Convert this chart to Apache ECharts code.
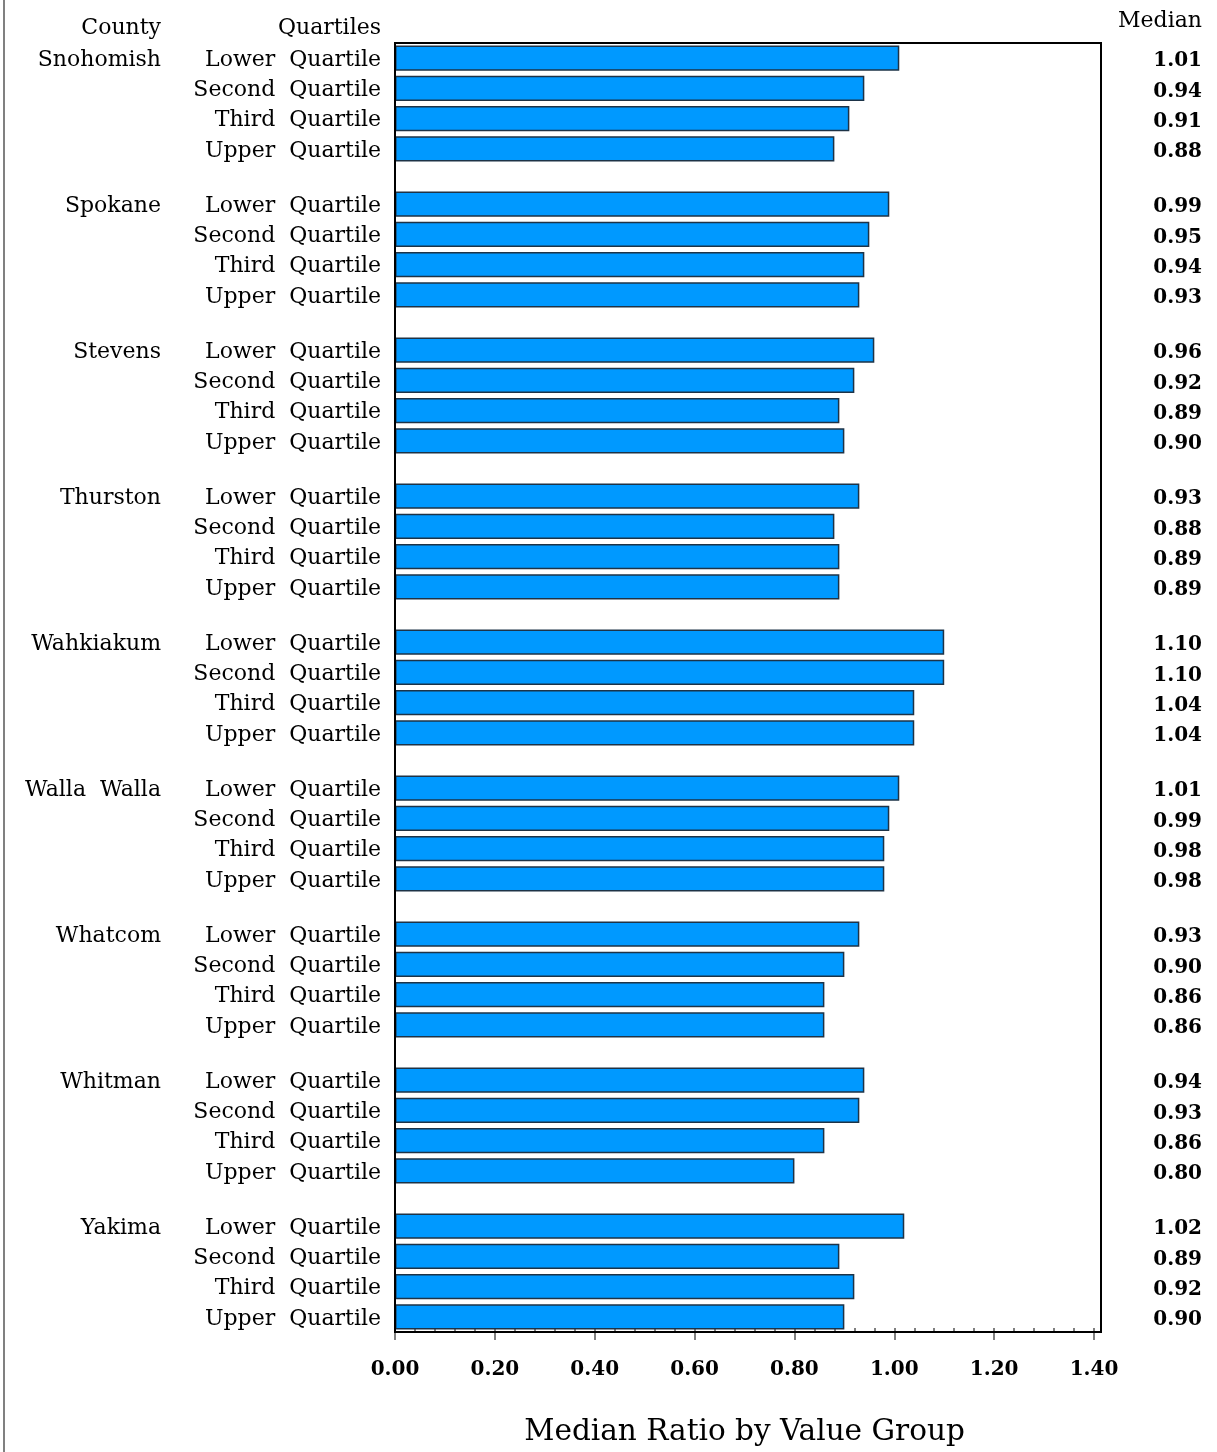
<!DOCTYPE html>
<html>
<head>
<meta charset="utf-8">
<script src="https://cdn.jsdelivr.net/npm/echarts@6/dist/echarts.min.js"></script>
<style>
html,body{margin:0;padding:0;background:#fff;}
#chart{width:1217px;height:1452px;}
</style>
</head>
<body>
<div id="chart"></div>
<script>
const counties = ['Snohomish','Spokane','Stevens','Thurston','Wahkiakum','Walla  Walla','Whatcom','Whitman','Yakima'];
const quartiles = ['Lower  Quartile','Second  Quartile','Third  Quartile','Upper  Quartile'];
const snohomish = [1.01, 0.94, 0.91, 0.88];
const spokane   = [0.99, 0.95, 0.94, 0.93];
const stevens   = [0.96, 0.92, 0.89, 0.90];
const thurston  = [0.93, 0.88, 0.89, 0.89];
const wahkiakum = [1.10, 1.10, 1.04, 1.04];
const wallaWalla= [1.01, 0.99, 0.98, 0.98];
const whatcom   = [0.93, 0.90, 0.86, 0.86];
const whitman   = [0.94, 0.93, 0.86, 0.80];
const yakima    = [1.02, 0.89, 0.92, 0.90];
const xTicks = [0, 0.2, 0.4, 0.6, 0.8, 1.0, 1.2, 1.4];
const axisTitle = 'Median Ratio by Value Group';

const medians = [snohomish, spokane, stevens, thurston, wahkiakum, wallaWalla, whatcom, whitman, yakima];

const FONT = '"DejaVu Serif", serif';
const chart = echarts.init(document.getElementById('chart'), null, {renderer:'canvas'});

const TOP = 43, PITCH = 146, GH = 121, LEFT = 395, RIGHT = 1217 - 1094;
const grids = [], xAxes = [], yAxes = [], series = [];

const richLabel = (size, weight, pad) => ({
  formatter: v => v ? '{a|' + v + '}' : '',
  rich: {a: {fontFamily: FONT, fontSize: size, fontWeight: weight, color: '#000', padding: [pad, 0, 0, 0]}}
});

counties.forEach((c, g) => {
  grids.push({left: LEFT, right: RIGHT, top: TOP + g * PITCH, height: GH, show: false});
  xAxes.push({gridIndex: g, type: 'value', min: 0, max: xTicks[xTicks.length-1], show: false});
  const base = yAxes.length;
  yAxes.push({
    gridIndex: g, type: 'category', inverse: true, position: 'left', data: quartiles,
    axisLine: {show: false}, axisTick: {show: false},
    axisLabel: Object.assign({interval: 0, margin: 14}, richLabel(22, 'normal', 4))
  });
  yAxes.push({
    gridIndex: g, type: 'category', inverse: true, position: 'left',
    data: quartiles.map((q, i) => i === 0 ? c : ''),
    axisLine: {show: false}, axisTick: {show: false},
    axisLabel: Object.assign({interval: 0, margin: 234}, richLabel(22, 'normal', 4))
  });
  yAxes.push({
    gridIndex: g, type: 'category', inverse: true, position: 'right',
    data: medians[g].map(v => v.toFixed(2)),
    axisLine: {show: false}, axisTick: {show: false},
    axisLabel: Object.assign({interval: 0, margin: 108, align: 'right'}, richLabel(20, 'bold', 6))
  });
  series.push({
    type: 'bar', xAxisIndex: g, yAxisIndex: base, data: medians[g],
    barCategoryGap: '17%',
    itemStyle: {color: '#0099FF', borderColor: '#1d3347', borderWidth: 1.5},
    silent: true
  });
});

// axis grid (bottom x axis with ticks)
const ag = grids.length;
grids.push({left: LEFT, right: RIGHT, top: TOP, bottom: 1452 - 1332, show: false});
xAxes.push({
  gridIndex: ag, type: 'value', min: 0, max: xTicks[xTicks.length-1], interval: 0.2, position: 'bottom',
  axisLine: {show: false},
  axisTick: {show: true, length: 12, lineStyle: {color: '#555', width: 1.5}},
  minorTick: {show: true, splitNumber: 5, length: 5, lineStyle: {color: '#555', width: 1.5}},
  splitLine: {show: false},
  axisLabel: {margin: 32, color: '#000', fontFamily: FONT, fontSize: 20, fontWeight: 'bold',
    formatter: v => v.toFixed(2)},
  name: axisTitle, nameLocation: 'middle', nameGap: 89,
  nameTextStyle: {color: '#000', fontFamily: FONT, fontSize: 29.5}
});
yAxes.push({gridIndex: ag, type: 'value', show: false});

// border grid
const bg = grids.length;
grids.push({left: LEFT, right: 1217 - 1101, top: TOP, bottom: 1452 - 1332, show: true,
  borderColor: '#000', borderWidth: 2, backgroundColor: 'transparent', z: 5});
xAxes.push({gridIndex: bg, type: 'value', show: false});
yAxes.push({gridIndex: bg, type: 'value', show: false});

chart.setOption({
  animation: false,
  backgroundColor: '#fff',
  grid: grids, xAxis: xAxes, yAxis: yAxes, series: series,
  graphic: [
    {type: 'line', shape: {x1: 4, y1: 0, x2: 4, y2: 1452}, style: {stroke: '#808080', lineWidth: 2}},
    {type: 'text', x: 161, y: 28, style: {text: 'County', textAlign: 'right', textVerticalAlign: 'middle', font: '22px ' + FONT, fill: '#000'}},
    {type: 'text', x: 381, y: 28, style: {text: 'Quartiles', textAlign: 'right', textVerticalAlign: 'middle', font: '22px ' + FONT, fill: '#000'}},
    {type: 'text', x: 1202, y: 21, style: {text: 'Median', textAlign: 'right', textVerticalAlign: 'middle', font: '22px ' + FONT, fill: '#000'}}
  ]
});
</script>
</body>
</html>
